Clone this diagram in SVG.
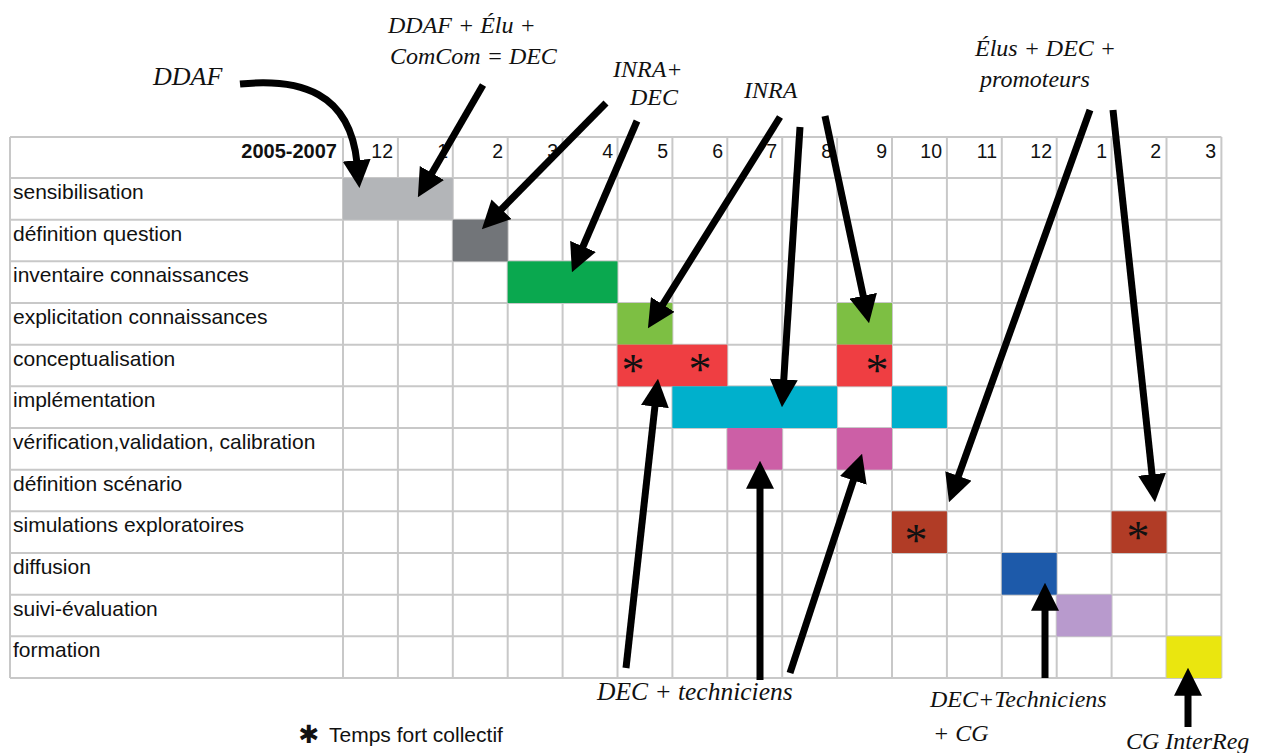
<svg xmlns="http://www.w3.org/2000/svg" width="1261" height="753" viewBox="0 0 1261 753">
<style>
.grid line{stroke:#c8c8c8;stroke-width:2}
.lbl{font-family:"Liberation Sans",Arial,sans-serif;font-size:21px;fill:#111}
.num{font-family:"Liberation Sans",Arial,sans-serif;font-size:19.5px;fill:#111;text-anchor:end}
.yr{font-family:"Liberation Sans",Arial,sans-serif;font-size:20px;font-weight:bold;fill:#111;text-anchor:end}
.ann{font-family:"Liberation Serif","Times New Roman",serif;font-style:italic;font-size:24px;fill:#111}
.ast{font-family:"Liberation Serif","Times New Roman",serif;font-size:46px;fill:#111;text-anchor:middle}
.arr{fill:none;stroke:#000;stroke-width:7;marker-end:url(#ah)}
</style>
<defs>
<marker id="ah" viewBox="0 0 10 10" refX="1" refY="5" markerWidth="4" markerHeight="4" orient="auto" markerUnits="strokeWidth">
<path d="M0,0 L10,5 L0,10 z" fill="#000"/>
</marker>
</defs>
<rect width="1261" height="753" fill="#fff"/>

<g id="grid" class="grid">
<line x1="10" y1="137" x2="1221.4" y2="137"/>
<line x1="10" y1="178" x2="1221.4" y2="178"/>
<line x1="10" y1="219.67" x2="1221.4" y2="219.67"/>
<line x1="10" y1="261.33" x2="1221.4" y2="261.33"/>
<line x1="10" y1="303" x2="1221.4" y2="303"/>
<line x1="10" y1="344.67" x2="1221.4" y2="344.67"/>
<line x1="10" y1="386.33" x2="1221.4" y2="386.33"/>
<line x1="10" y1="428" x2="1221.4" y2="428"/>
<line x1="10" y1="469.67" x2="1221.4" y2="469.67"/>
<line x1="10" y1="511.33" x2="1221.4" y2="511.33"/>
<line x1="10" y1="553" x2="1221.4" y2="553"/>
<line x1="10" y1="594.67" x2="1221.4" y2="594.67"/>
<line x1="10" y1="636.33" x2="1221.4" y2="636.33"/>
<line x1="10" y1="678" x2="1221.4" y2="678"/>
<line x1="10" y1="137" x2="10" y2="678"/>
<line x1="343" y1="137" x2="343" y2="678"/>
<line x1="397.9" y1="137" x2="397.9" y2="678"/>
<line x1="452.8" y1="137" x2="452.8" y2="678"/>
<line x1="507.7" y1="137" x2="507.7" y2="678"/>
<line x1="562.6" y1="137" x2="562.6" y2="678"/>
<line x1="617.5" y1="137" x2="617.5" y2="678"/>
<line x1="672.4" y1="137" x2="672.4" y2="678"/>
<line x1="727.3" y1="137" x2="727.3" y2="678"/>
<line x1="782.2" y1="137" x2="782.2" y2="678"/>
<line x1="837.1" y1="137" x2="837.1" y2="678"/>
<line x1="892" y1="137" x2="892" y2="678"/>
<line x1="946.9" y1="137" x2="946.9" y2="678"/>
<line x1="1001.8" y1="137" x2="1001.8" y2="678"/>
<line x1="1056.7" y1="137" x2="1056.7" y2="678"/>
<line x1="1111.6" y1="137" x2="1111.6" y2="678"/>
<line x1="1166.5" y1="137" x2="1166.5" y2="678"/>
<line x1="1221.4" y1="137" x2="1221.4" y2="678"/>
</g>

<g id="header">
<text class="yr" x="337" y="158">2005-2007</text>
<text class="num" x="393" y="158">12</text>
<text class="num" x="448" y="158">1</text>
<text class="num" x="503" y="158">2</text>
<text class="num" x="558" y="158">3</text>
<text class="num" x="613" y="158">4</text>
<text class="num" x="668" y="158">5</text>
<text class="num" x="723" y="158">6</text>
<text class="num" x="777" y="158">7</text>
<text class="num" x="832" y="158">8</text>
<text class="num" x="887" y="158">9</text>
<text class="num" x="942" y="158">10</text>
<text class="num" x="997" y="158">11</text>
<text class="num" x="1052" y="158">12</text>
<text class="num" x="1107" y="158">1</text>
<text class="num" x="1161" y="158">2</text>
<text class="num" x="1216" y="158">3</text>
</g>

<g id="row-sensibilisation">
<text class="lbl" x="13" y="199">sensibilisation</text>
<rect x="343" y="178" width="109.8" height="41.67" fill="#b3b5b8"/>
</g>
<g id="row-definition-question">
<text class="lbl" x="13" y="241">définition question</text>
<rect x="452.8" y="219.67" width="54.9" height="41.66" fill="#727579"/>
</g>
<g id="row-inventaire">
<text class="lbl" x="13" y="282">inventaire connaissances</text>
<rect x="507.7" y="261.33" width="109.8" height="41.67" fill="#0aa84f"/>
</g>
<g id="row-explicitation">
<text class="lbl" x="13" y="324">explicitation connaissances</text>
<rect x="617.5" y="303" width="54.9" height="41.67" fill="#7dbf43"/>
<rect x="837.1" y="303" width="54.9" height="41.67" fill="#7dbf43"/>
</g>
<g id="row-conceptualisation">
<text class="lbl" x="13" y="366">conceptualisation</text>
<rect x="617.5" y="344.67" width="109.8" height="41.66" fill="#ef3e42"/>
<rect x="837.1" y="344.67" width="54.9" height="41.66" fill="#ef3e42"/>
<text class="ast" x="633" y="386">*</text>
<text class="ast" x="700" y="385">*</text>
<text class="ast" x="877" y="386">*</text>
</g>
<g id="row-implementation">
<text class="lbl" x="13" y="407">implémentation</text>
<rect x="672.4" y="386.33" width="164.7" height="41.67" fill="#00b0cc"/>
<rect x="892" y="386.33" width="54.9" height="41.67" fill="#00b0cc"/>
</g>
<g id="row-verification">
<text class="lbl" x="13" y="449">vérification,validation, calibration</text>
<rect x="727.3" y="428" width="54.9" height="41.67" fill="#cc5fa6"/>
<rect x="837.1" y="428" width="54.9" height="41.67" fill="#cc5fa6"/>
</g>
<g id="row-definition-scenario">
<text class="lbl" x="13" y="491">définition scénario</text>
</g>
<g id="row-simulations">
<text class="lbl" x="13" y="532">simulations exploratoires</text>
<rect x="892" y="511.33" width="54.9" height="41.67" fill="#b13c26"/>
<rect x="1111.6" y="511.33" width="54.9" height="41.67" fill="#b13c26"/>
<text class="ast" x="916" y="556">*</text>
<text class="ast" x="1138" y="553">*</text>
</g>
<g id="row-diffusion">
<text class="lbl" x="13" y="574">diffusion</text>
<rect x="1001.8" y="553" width="54.9" height="41.67" fill="#1d5aaa"/>
</g>
<g id="row-suivi">
<text class="lbl" x="13" y="616">suivi-évaluation</text>
<rect x="1056.7" y="594.67" width="54.9" height="41.66" fill="#b89acd"/>
</g>
<g id="row-formation">
<text class="lbl" x="13" y="657">formation</text>
<rect x="1166.5" y="636.33" width="54.9" height="41.67" fill="#eae60f"/>
</g>

<g id="legend">
<text x="309" y="743" font-family="'DejaVu Sans',sans-serif" font-size="25" text-anchor="middle" fill="#111">✱</text>
<text class="lbl" x="329" y="742">Temps fort collectif</text>
</g>

<g id="labels">
<g id="lab-ddaf"><text class="ann" x="153" y="85" style="font-size:26px">DDAF</text></g>
<g id="lab-ddaf-elu"><text class="ann" x="388" y="33">DDAF + Élu +</text><text class="ann" x="390" y="64">ComCom = DEC</text></g>
<g id="lab-inra-dec"><text class="ann" x="613" y="77">INRA+</text><text class="ann" x="630" y="105">DEC</text></g>
<g id="lab-inra"><text class="ann" x="744" y="98">INRA</text></g>
<g id="lab-elus"><text class="ann" x="975" y="56">Élus + DEC +</text><text class="ann" x="980" y="87">promoteurs</text></g>
<g id="lab-dec-tech"><text class="ann" x="597" y="700" style="font-size:25.5px">DEC + techniciens</text></g>
<g id="lab-dec-tech-cg"><text class="ann" x="930" y="707">DEC+Techniciens</text><text class="ann" x="933" y="741">+ CG</text></g>
<g id="lab-cg"><text class="ann" x="1126" y="749">CG InterReg</text></g>
</g>

<g id="connectors">
<path class="arr" d="M240,84 C300,78 350,92 357,163"/>
<path class="arr" d="M483,85 L430.5,175.4"/>
<path class="arr" d="M606,103 L499.5,211.2"/>
<path class="arr" d="M637,121 L581.9,249"/>
<path class="arr" d="M780,117 L661.3,306.8"/>
<path class="arr" d="M800,127 L783.6,382.1"/>
<path class="arr" d="M825,116 L863.8,298.5"/>
<path class="arr" d="M1090,110 L957.5,478.5"/>
<path class="arr" d="M1113,110 L1152.3,477.1"/>
<path class="arr" d="M626,668 L655.2,403.8"/>
<path class="arr" d="M760,680 L760,486"/>
<path class="arr" d="M790,673 L854.2,477.8"/>
<path class="arr" d="M1045,678 L1045,608"/>
<path class="arr" d="M1188,727 L1188,693"/>
</g>
</svg>
